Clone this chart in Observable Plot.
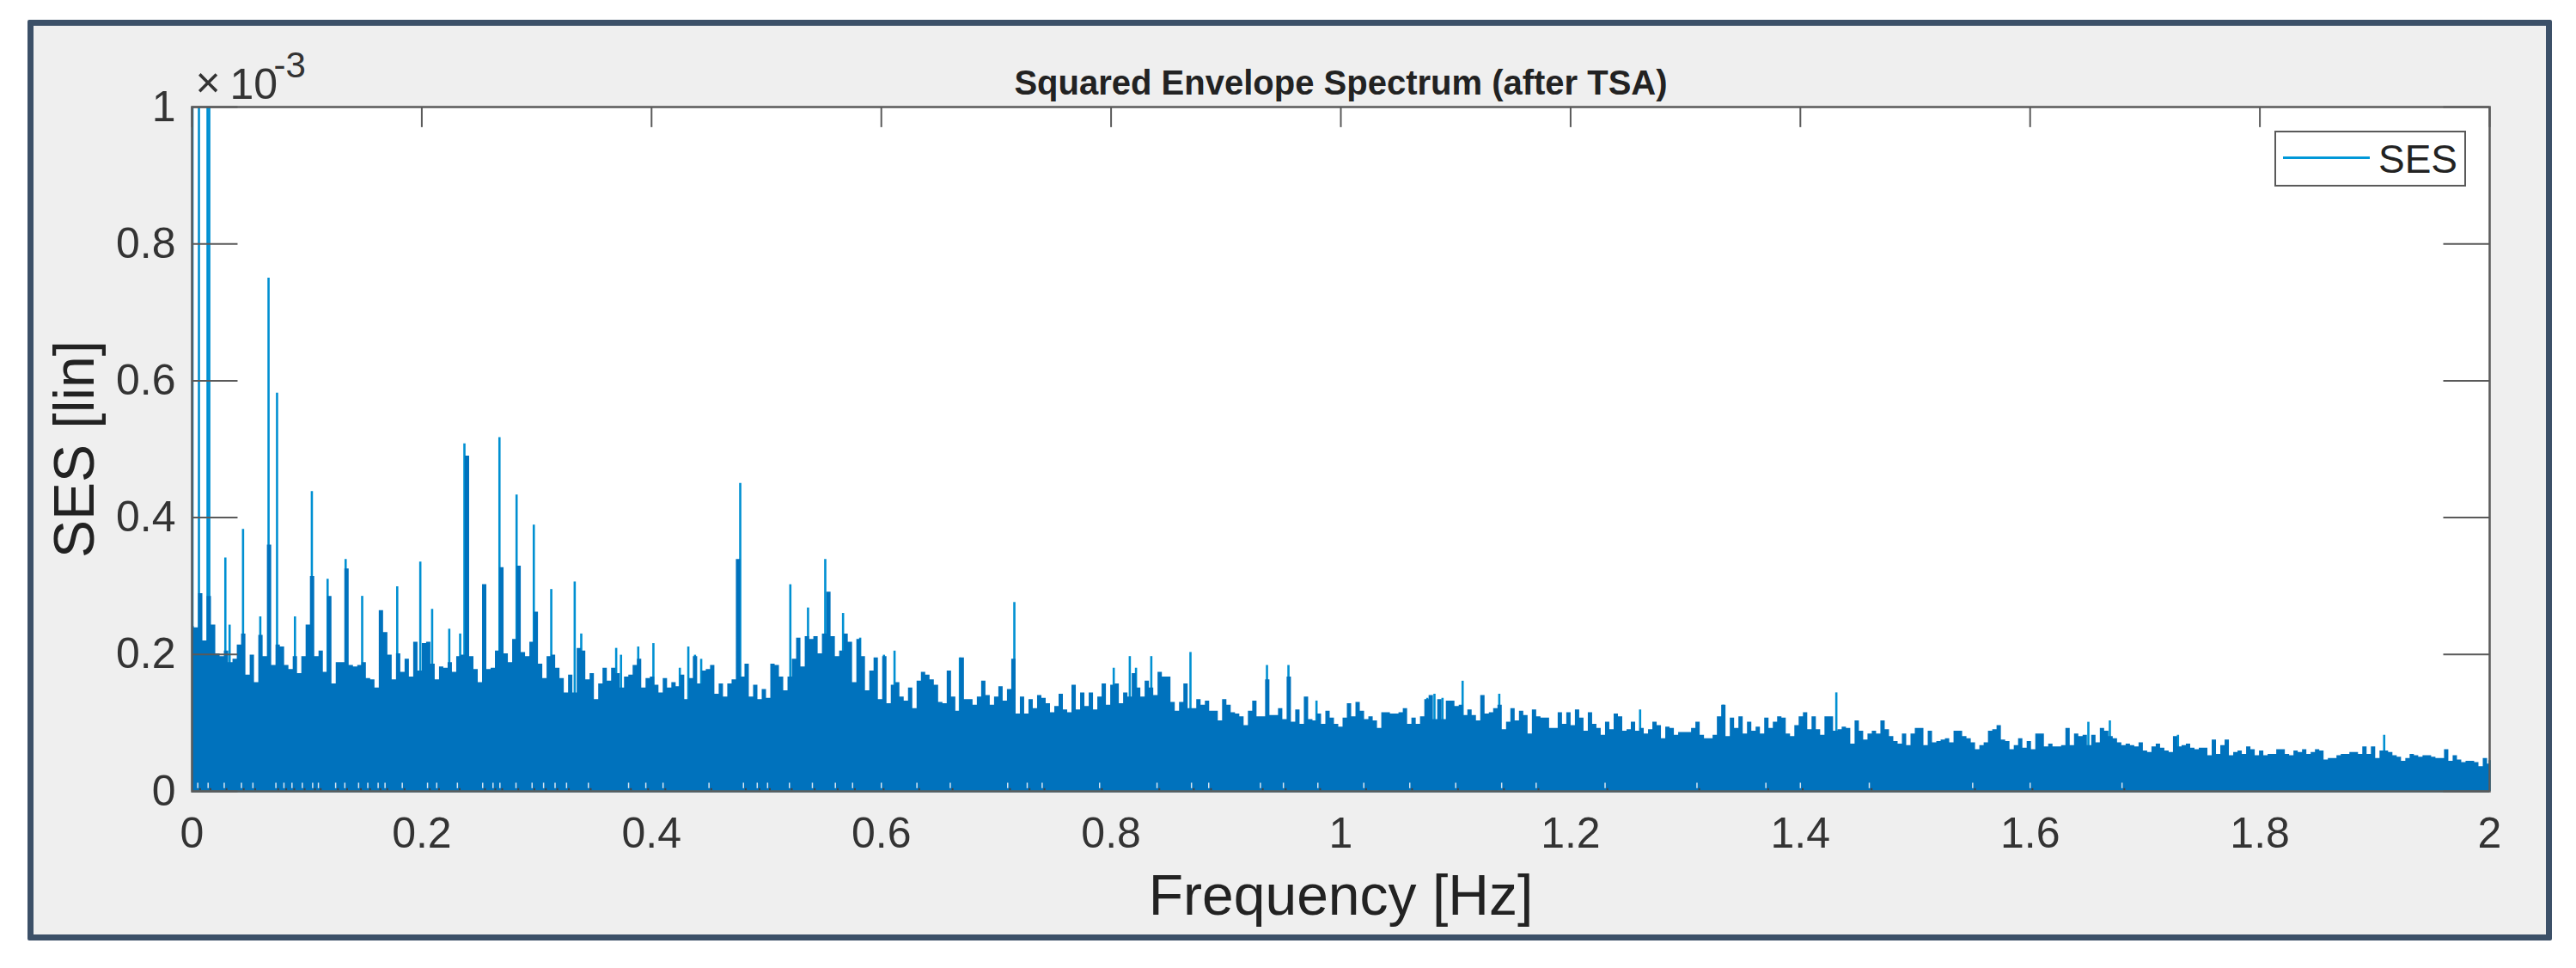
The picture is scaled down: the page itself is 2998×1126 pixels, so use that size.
<!DOCTYPE html>
<html><head><meta charset="utf-8">
<script src="https://cdn.jsdelivr.net/npm/d3@7"></script>
<script src="https://cdn.jsdelivr.net/npm/@observablehq/plot@0.6"></script>
<style>
html,body{margin:0;padding:0;background:#fff;width:2998px;height:1126px;overflow:hidden}
#frame{position:absolute;left:32px;top:23px;width:2924px;height:1057px;background:#efefef;border:7px solid #3c5068;border-radius:2px}
#chart{position:absolute;left:0;top:0}
#legend{position:absolute;left:2647px;top:152px;width:219px;height:61px;background:#fff;border:2px solid #5a5a5a;font:46px "Liberation Sans",Arial,sans-serif;color:#222}
#legend i{position:absolute;left:8px;top:28px;width:101px;height:3px;background:#0098d8}
#legend span{position:absolute;left:119px;top:4px;line-height:54px}
</style></head>
<body>
<div id="frame"></div>
<div id="chart"></div>
<div id="legend"><i></i><span>SES</span></div>
<script>
const xTicks = [0,0.2,0.4,0.6,0.8,1,1.2,1.4,1.6,1.8,2];
const yTicks = [0,0.2,0.4,0.6,0.8,1];
const titleText = "Squared Envelope Spectrum (after TSA)";
const xLabel = "Frequency [Hz]";
const yLabel = "SES [lin]";

// Broad-band level of the spectrum (x10^-3), 0–0.33 Hz etc.
const band1 = [.241,.239,.289,.220,.285,.243,.201,.197,.205,.188,.193,.214,.230,.170,.199,.159,.228,.197,.360,.184,.214,.211,.184,.178,.197,.172,.197,.243,.314,.197,.205,.174,.285,.157,.188,.188,.325,.184,.182,.184,.188,.165,.163,.151,.264,.232,.199,.163,.201,.174,.193,.167,.218,.176,.216,.218,.186,.163,.182,.180,.188,.174,.197,.199,.490,.197,.178,.159,.302,.178,.180,.205,.327,.201,.188,.222,.329,.203,.197,.218,.262,.186,.165,.197,.199,.180,.165,.144,.170,.144];
const band2 = [.209,.205,.163,.172,.134,.157,.180,.161,.180,.172,.151,.167,.170,.184,.193,.151,.165,.167,.155,.144,.165,.151,.159,.153,.170,.134,.165,.197,.157,.176,.178,.184,.142,.157,.138,.157,.163,.339,.167,.186,.138,.155,.134,.149,.136,.186,.184,.167,.147,.167,.193,.224,.182,.226,.222,.226,.201,.230,.291,.226,.197,.205,.230,.218,.159,.222,.197,.147,.176,.195,.134,.197,.128,.155,.159,.138,.132,.151,.121,.161,.174,.170,.163,.155,.130,.128,.176,.138,.117,.195];
const band3 = [.134,.134,.126,.138,.161,.140,.126,.138,.153,.132,.149,.193,.113,.138,.113,.134,.121,.140,.136,.128,.115,.124,.142,.119,.115,.155,.119,.144,.124,.144,.119,.138,.157,.126,.155,.157,.128,.144,.138,.172,.151,.138,.161,.151,.140,.174,.167,.167,.130,.117,.130,.157,.121,.121,.134,.126,.132,.117,.117,.103,.134,.126,.115,.113,.109,.096,.117,.132,.109,.109,.163,.111,.111,.121,.105,.167,.101,.119,.098,.138,.105,.103,.113,.098,.117,.107,.098,.094,.107,.128];
const band4 = [.109,.130,.117,.105,.109,.103,.092,.115,.115,.113,.113,.115,.121,.098,.107,.098,.109,.134,.140,.105,.134,.105,.132,.132,.124,.126,.111,.119,.111,.103,.140,.113,.115,.121,.126,.090,.101,.121,.103,.117,.111,.084,.119,.109,.107,.107,.092,.092,.115,.098,.115,.096,.119,.107,.088,.115,.098,.092,.082,.101,.090,.113,.109,.088,.090,.101,.088,.092,.084,.090,.101,.096,.077,.094,.092,.082,.086,.086,.086,.092,.101,.082,.077,.077,.082,.109,.126,.080,.107,.092];
const band5 = [.109,.084,.101,.088,.094,.084,.107,.092,.101,.109,.107,.084,.080,.096,.109,.115,.090,.109,.090,.082,.109,.109,.088,.090,.094,.092,.069,.103,.088,.075,.084,.088,.084,.103,.090,.080,.073,.069,.084,.067,.084,.092,.092,.067,.088,.071,.073,.075,.077,.071,.088,.088,.080,.077,.071,.061,.067,.071,.088,.090,.096,.075,.073,.061,.067,.077,.063,.073,.061,.084,.084,.065,.069,.065,.065,.067,.092,.067,.084,.080,.082,.067,.082,.071,.092,.088,.080,.077,.071,.067];
const band6 = [.069,.067,.065,.071,.059,.057,.065,.069,.063,.059,.057,.080,.065,.067,.069,.063,.061,.063,.063,.052,.075,.054,.067,.075,.052,.057,.059,.054,.065,.061,.052,.059,.052,.054,.054,.061,.061,.054,.052,.059,.057,.061,.054,.057,.061,.059,.046,.048,.048,.052,.054,.054,.057,.057,.054,.065,.054,.065,.048,.059,.059,.057,.052,.050,.044,.048,.054,.052,.050,.052,.052,.050,.048,.048,.061,.044,.052,.046,.042,.044,.044,.042,.036,.048,.040];

// Narrow spectral lines standing above the band
const lineFreq = [.0004,.006,.0135,.015,.029,.0327,.0444,.0594,.0666,.074,.0896,.1043,.118,.1337,.1481,.1786,.1987,.209,.2239,.2334,.2371,.2384,.2676,.2825,.2975,.3127,.3331,.3388,.3692,.3734,.3884,.4016,.4246,.432,.4378,.4432,.4772,.5208,.5362,.5512,.5667,.5816,.6023,.6115,.6684,.7158,.8023,.8163,.8217,.835,.8691,.9357,.9544,.9788,1.0753,1.0815,1.0885,1.106,1.1379,1.2605,1.3329,1.4313,1.6507,1.6694,1.7287,1.9082,2];
const lineAmp  = [1,1,1,1,.341,.243,.383,.255,.75,.582,.255,.438,.31,.339,.285,.299,.335,.266,.237,.23,.508,.49,.517,.433,.389,.295,.306,.23,.209,.199,.211,.216,.18,.211,.199,.193,.45,.302,.268,.339,.26,.224,.199,.205,.195,.276,.18,.197,.18,.197,.203,.184,.184,.132,.136,.142,.136,.161,.142,.119,.126,.144,.101,.103,.082,.082,.045];

// Small gaps down at the noise floor
const floorGaps = [.005,.014,.028,.043,.053,.073,.08,.087,.096,.105,.11,.125,.133,.145,.153,.162,.168,.183,.205,.213,.231,.253,.262,.268,.282,.296,.306,.316,.326,.345,.38,.395,.41,.45,.48,.492,.501,.52,.54,.56,.575,.6,.631,.66,.71,.727,.74,.79,.84,.87,.885,.93,.95,.98,1.02,1.06,1.1,1.14,1.17,1.23,1.31,1.37,1.4,1.46,1.55,1.6,1.68];

const bandAmp = [...band1,...band2,...band3,...band4,...band5,...band6];
const bandFreq = bandAmp.map((_,i)=> i*2/(bandAmp.length-1));
const band = bandAmp.map((a,i)=>({f:bandFreq[i],a}));
const lines = lineAmp.map((a,i)=>({f:lineFreq[i],a}));

const ink = "#333", axisInk = "#5a5a5a";
const F = "Liberation Sans, Arial, sans-serif";
const note = (s,o)=>Plot.text([s],{frameAnchor:"top-left",textAnchor:"start",lineAnchor:"bottom",fontFamily:F,fill:ink,...o});

const fig = Plot.plot({
  width:2998, height:1126,
  marginLeft:223, marginRight:101, marginTop:124, marginBottom:206,
  style:{background:"transparent",fontFamily:F,overflow:"visible"},
  x:{domain:[0,2],label:null}, y:{domain:[0,1],label:null},
  marks:[
    Plot.frame({fill:"#fff"}),
    Plot.ruleX(lines,{x:"f",y1:0,y2:"a",stroke:"#0090d2",strokeWidth:2.6}),
    Plot.areaY(band,{x:"f",y:"a",curve:"step",fill:"#0072BD"}),
    Plot.ruleX(floorGaps,{x:d=>d,y1:.004,y2:.012,stroke:"#d7e6f2",strokeWidth:1.5}),
    Plot.ruleX(floorGaps,{x:d=>d+.002,y1:0,y2:.004,stroke:"#444",strokeWidth:2}),
    Plot.ruleY([0],{x1:0,x2:2,stroke:"#0096d6",strokeWidth:2}),
    Plot.ruleX(xTicks,{x:d=>d,y1:.97,y2:1,stroke:axisInk,strokeWidth:2}),
    Plot.ruleY(yTicks,{y:d=>d,x1:0,x2:.04,stroke:axisInk,strokeWidth:2}),
    Plot.ruleY(yTicks,{y:d=>d,x1:1.96,x2:2,stroke:axisInk,strokeWidth:2}),
    Plot.frame({stroke:axisInk,strokeWidth:2.5}),
    Plot.axisX(xTicks,{anchor:"bottom",tickSize:0,tickPadding:30,fontSize:50,fill:ink,tickFormat:d=>String(d),label:null}),
    Plot.axisY(yTicks,{anchor:"left",tickSize:0,tickPadding:19,fontSize:50,fill:ink,tickFormat:d=>String(d),label:null}),
    Plot.text([titleText],{frameAnchor:"top",lineAnchor:"bottom",dx:0,dy:-15,fontSize:40,fontWeight:"bold",fontFamily:F,fill:"#222"}),
    Plot.text([xLabel],{frameAnchor:"bottom",lineAnchor:"bottom",dy:143,fontSize:66,fontFamily:F,fill:"#222"}),
    Plot.text([yLabel],{frameAnchor:"left",textAnchor:"middle",lineAnchor:"bottom",rotate:-90,dx:-115,fontSize:66,fontFamily:F,fill:"#222"}),
    note("×",{dx:4,dy:-12,fontSize:50}),
    note("10",{dx:44,dy:-10,fontSize:50}),
    note("-3",{dx:95,dy:-35,fontSize:42})
  ]
});
document.getElementById("chart").appendChild(fig);
</script>
</body></html>
